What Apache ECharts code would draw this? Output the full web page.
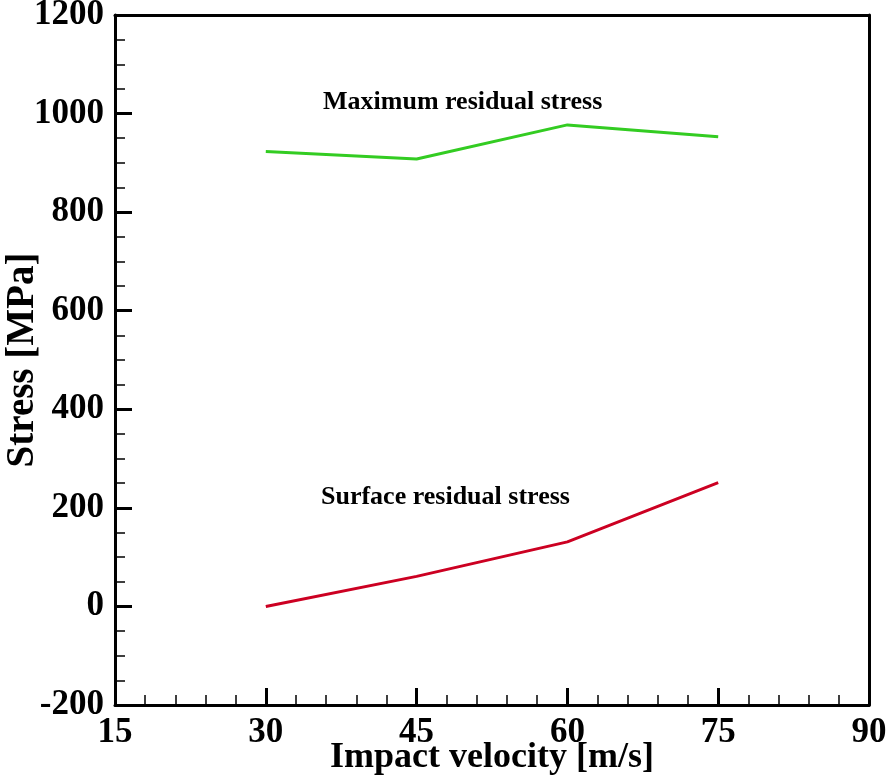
<!DOCTYPE html>
<html><head><meta charset="utf-8">
<script src="https://cdn.jsdelivr.net/npm/echarts@6/dist/echarts.min.js"></script>
<style>html,body{margin:0;padding:0;background:#fff}#c{width:892px;height:779px}</style>
</head><body><div id="c"></div>
<script>
const velocity = [30, 45, 60, 75];
const maxResidual = [923, 908, 977, 953];
const surfaceResidual = [0, 61, 131, 251];
const xTicks = [15, 30, 45, 60, 75, 90];
const yTicks = [-200, 0, 200, 400, 600, 800, 1000, 1200];
const FONT = '"Liberation Serif", "Times New Roman", serif';

const chart = echarts.init(document.getElementById('c'));
const axisCommon = {
  axisLine: {show: true, onZero: false, lineStyle: {color: '#000', width: 3}},
  axisTick: {show: true, inside: true, length: 17, lineStyle: {color: '#000', width: 3}},
  minorTick: {show: true, length: 10, lineStyle: {color: '#000', width: 1.5}},
  splitLine: {show: false},
  axisLabel: {color: '#000', fontFamily: FONT, fontWeight: 'bold', fontSize: 35, formatter: v => String(v)},
  nameMoveOverlap: false
};
const frame = {
  axisLine: {show: true, onZero: false, lineStyle: {color: '#000', width: 3}},
  axisTick: {show: false}, axisLabel: {show: false}, splitLine: {show: false}
};
chart.setOption({
  animation: false,
  backgroundColor: '#fff',
  grid: {left: 115, right: 23, top: 15, bottom: 74, containLabel: false, outerBoundsMode: 'none'},
  xAxis: [{
    type: 'value', min: xTicks[0], max: xTicks[xTicks.length-1], interval: 15,
    position: 'bottom',
    name: 'Impact velocity [m/s]', nameLocation: 'middle', nameGap: 35,
    nameTextStyle: {color: '#000', fontFamily: FONT, fontWeight: 'bold', fontSize: 36},
    ...axisCommon,
    minorTick: {...axisCommon.minorTick, splitNumber: 5},
    axisLabel: {...axisCommon.axisLabel, margin: 10}
  }, {
    type: 'value', min: xTicks[0], max: xTicks[xTicks.length-1], position: 'top', ...frame
  }],
  yAxis: [{
    type: 'value', min: yTicks[0], max: yTicks[yTicks.length-1], interval: 200,
    position: 'left',
    name: 'Stress [MPa]', nameLocation: 'middle', nameGap: 73,
    nameTextStyle: {color: '#000', fontFamily: FONT, fontWeight: 'bold', fontSize: 39},
    ...axisCommon,
    minorTick: {...axisCommon.minorTick, splitNumber: 4},
    axisLabel: {...axisCommon.axisLabel, margin: 11}
  }, {
    type: 'value', min: yTicks[0], max: yTicks[yTicks.length-1], position: 'right', ...frame
  }],
  series: [{
    type: 'line', name: 'Maximum residual stress',
    data: velocity.map((v, i) => [v, maxResidual[i]]),
    showSymbol: false, lineStyle: {color: '#33cc22', width: 3}
  }, {
    type: 'line', name: 'Surface residual stress',
    data: velocity.map((v, i) => [v, surfaceResidual[i]]),
    showSymbol: false, lineStyle: {color: '#cc0022', width: 3}
  }],
  graphic: [{
    type: 'text', left: 323, top: 89,
    style: {text: 'Maximum residual stress', font: 'bold 26px ' + FONT, fill: '#000'}
  }, {
    type: 'text', left: 321, top: 484,
    style: {text: 'Surface residual stress', font: 'bold 26px ' + FONT, fill: '#000'}
  }]
});
</script></body></html>
